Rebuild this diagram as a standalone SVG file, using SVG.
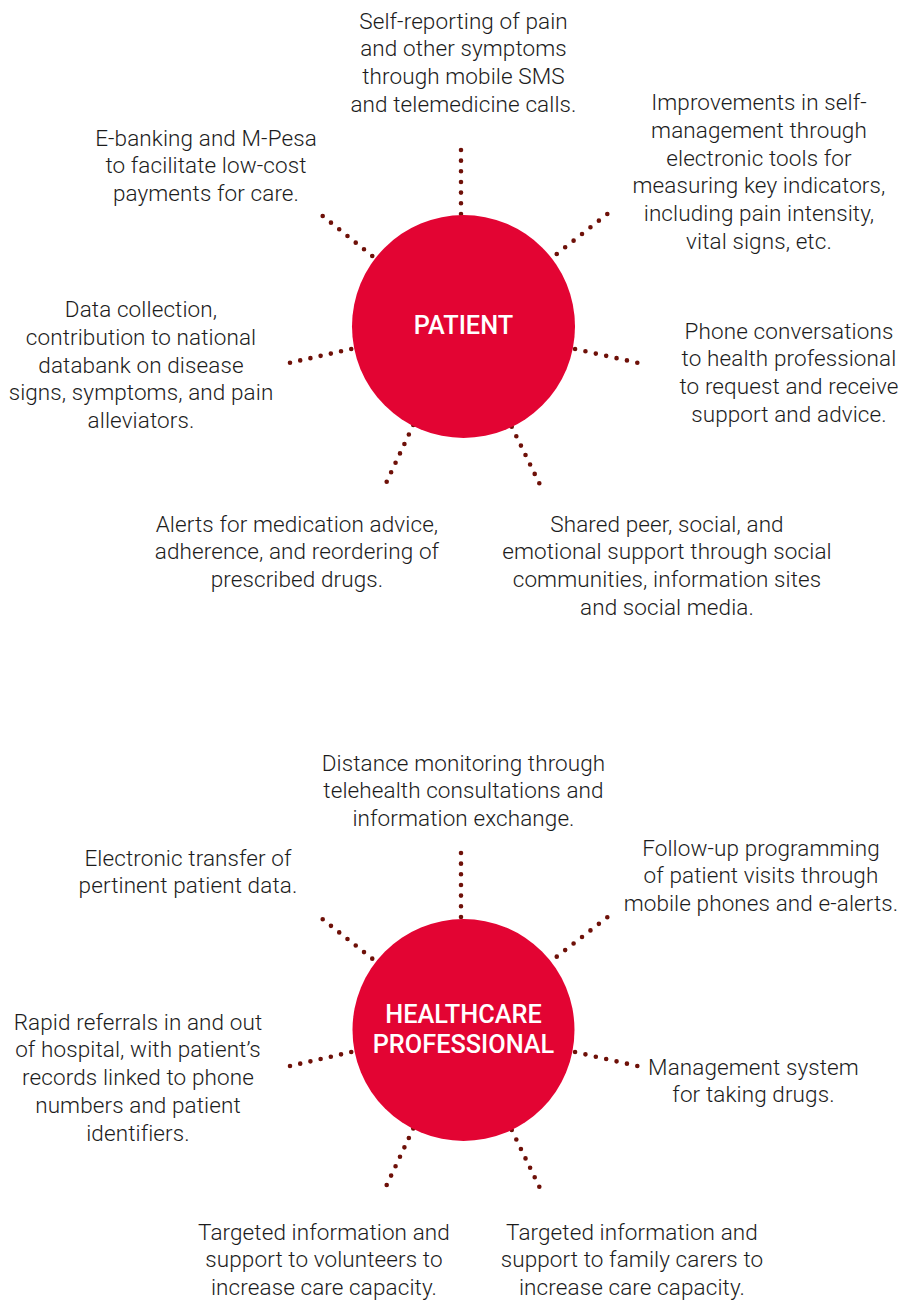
<svg xmlns="http://www.w3.org/2000/svg" width="901" height="1302" viewBox="0 0 901 1302">
<style>
.bg{fill:#ffffff}
.t{font-family:Roboto,"Liberation Sans",sans-serif;font-size:22.5px;letter-spacing:0.1px;font-weight:300;fill:#1c1c1c;text-anchor:middle}
.h{font-family:Roboto,"Liberation Sans",sans-serif;font-size:25.3px;font-weight:500;fill:#ffffff;text-anchor:middle}
.hub{fill:#e30433}
.ray{stroke:#6e1008;stroke-width:4.6;stroke-linecap:round;stroke-dasharray:0 0.999;fill:none}
</style>
<rect class="bg" x="0" y="0" width="901" height="1302"/>
<g id="connectors">
<line class="ray" pathLength="6" x1="461" y1="150" x2="461" y2="214"/>
<line class="ray" pathLength="6" x1="322.7" y1="216" x2="372.3" y2="256"/>
<line class="ray" pathLength="6" x1="607.3" y1="214" x2="556.7" y2="254"/>
<line class="ray" pathLength="6" x1="290" y1="362.7" x2="351.3" y2="349"/>
<line class="ray" pathLength="6" x1="637.3" y1="362.7" x2="575" y2="349"/>
<line class="ray" pathLength="6" x1="386.7" y1="481.7" x2="413.3" y2="425"/>
<line class="ray" pathLength="6" x1="539.3" y1="483.3" x2="511.7" y2="426.7"/>
<line class="ray" pathLength="6" x1="461" y1="853" x2="461" y2="917"/>
<line class="ray" pathLength="6" x1="322.7" y1="919.3" x2="372.3" y2="958.7"/>
<line class="ray" pathLength="6" x1="607.3" y1="917.3" x2="556.7" y2="956.7"/>
<line class="ray" pathLength="6" x1="290" y1="1066" x2="351.3" y2="1052"/>
<line class="ray" pathLength="6" x1="637.3" y1="1066" x2="575" y2="1052"/>
<line class="ray" pathLength="6" x1="386.7" y1="1185" x2="413.3" y2="1128.5"/>
<line class="ray" pathLength="6" x1="539.3" y1="1186.7" x2="511.7" y2="1130"/>
</g>
<g id="patient">
<circle class="hub" cx="463.5" cy="326.5" r="111.5"/>
<text class="h" x="463.5" y="334">PATIENT</text>
</g>
<g id="healthcare-professional">
<circle class="hub" cx="463.5" cy="1030" r="111"/>
<text class="h" x="463.5" y="1023">HEALTHCARE</text>
<text class="h" x="463.5" y="1053">PROFESSIONAL</text>
</g>
<g id="p-self-reporting">
<text class="t" x="463.5" y="28.5">Self-reporting of pain</text>
<text class="t" x="463.5" y="56.3">and other symptoms</text>
<text class="t" x="463.5" y="84.1">through mobile SMS</text>
<text class="t" x="463.5" y="111.9">and telemedicine calls.</text>
</g>
<g id="p-ebanking">
<text class="t" x="206" y="145.5">E-banking and M-Pesa</text>
<text class="t" x="206" y="173.3">to facilitate low-cost</text>
<text class="t" x="206" y="201.1">payments for care.</text>
</g>
<g id="p-improvements">
<text class="t" x="759" y="110">Improvements in self-</text>
<text class="t" x="759" y="137.8">management through</text>
<text class="t" x="759" y="165.6">electronic tools for</text>
<text class="t" x="759" y="193.4">measuring key indicators,</text>
<text class="t" x="759" y="221.2">including pain intensity,</text>
<text class="t" x="759" y="249">vital signs, etc.</text>
</g>
<g id="p-data-collection">
<text class="t" x="141" y="317">Data collection,</text>
<text class="t" x="141" y="344.8">contribution to national</text>
<text class="t" x="141" y="372.6">databank on disease</text>
<text class="t" x="141" y="400.4">signs, symptoms, and pain</text>
<text class="t" x="141" y="428.2">alleviators.</text>
</g>
<g id="p-phone">
<text class="t" x="789" y="338.5">Phone conversations</text>
<text class="t" x="789" y="366.3">to health professional</text>
<text class="t" x="789" y="394.1">to request and receive</text>
<text class="t" x="789" y="421.9">support and advice.</text>
</g>
<g id="p-alerts">
<text class="t" x="297" y="531.5">Alerts for medication advice,</text>
<text class="t" x="297" y="559.3">adherence, and reordering of</text>
<text class="t" x="297" y="587.1">prescribed drugs.</text>
</g>
<g id="p-shared">
<text class="t" x="667" y="531.5">Shared peer, social, and</text>
<text class="t" x="667" y="559.3">emotional support through social</text>
<text class="t" x="667" y="587.1">communities, information sites</text>
<text class="t" x="667" y="614.9">and social media.</text>
</g>
<g id="h-distance">
<text class="t" x="463.5" y="770.5">Distance monitoring through</text>
<text class="t" x="463.5" y="798.3">telehealth consultations and</text>
<text class="t" x="463.5" y="826.1">information exchange.</text>
</g>
<g id="h-electronic">
<text class="t" x="188" y="865.5">Electronic transfer of</text>
<text class="t" x="188" y="893.3">pertinent patient data.</text>
</g>
<g id="h-followup">
<text class="t" x="761" y="855.5">Follow-up programming</text>
<text class="t" x="761" y="883.3">of patient visits through</text>
<text class="t" x="761" y="911.1">mobile phones and e-alerts.</text>
</g>
<g id="h-referrals">
<text class="t" x="138" y="1029.5">Rapid referrals in and out</text>
<text class="t" x="138" y="1057.3">of hospital, with patient’s</text>
<text class="t" x="138" y="1085.1">records linked to phone</text>
<text class="t" x="138" y="1112.9">numbers and patient</text>
<text class="t" x="138" y="1140.7">identifiers.</text>
</g>
<g id="h-management">
<text class="t" x="753.5" y="1074.5">Management system</text>
<text class="t" x="753.5" y="1102.3">for taking drugs.</text>
</g>
<g id="h-volunteers">
<text class="t" x="324" y="1239.5">Targeted information and</text>
<text class="t" x="324" y="1267.3">support to volunteers to</text>
<text class="t" x="324" y="1295.1">increase care capacity.</text>
</g>
<g id="h-family">
<text class="t" x="632" y="1239.5">Targeted information and</text>
<text class="t" x="632" y="1267.3">support to family carers to</text>
<text class="t" x="632" y="1295.1">increase care capacity.</text>
</g>
</svg>
